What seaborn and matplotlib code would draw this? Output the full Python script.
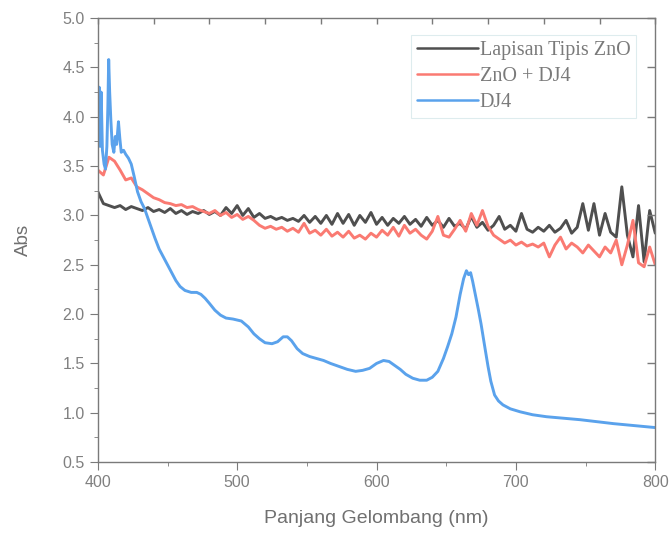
import numpy as np
import pandas as pd
import matplotlib
matplotlib.use("Agg")
import matplotlib.pyplot as plt
import seaborn as sns
from matplotlib.ticker import MultipleLocator, NullFormatter, FormatStrFormatter

# ---- data ----
wl_grid = np.arange(400, 801, 4)

zno = [
    3.24, 3.12, 3.10, 3.08, 3.10, 3.06, 3.09, 3.07, 3.05, 3.08,
    3.04, 3.06, 3.03, 3.07, 3.02, 3.05, 3.01, 3.04, 3.02, 3.05,
    3.01, 3.04, 3.00, 3.08, 3.02, 3.10, 3.00, 3.07, 2.98, 3.02,
    2.97, 2.99, 2.96, 2.98, 2.95, 2.97, 2.94, 3.00, 2.93, 2.99,
    2.92, 3.00, 2.91, 3.02, 2.92, 3.01, 2.90, 3.00, 2.93, 3.03,
    2.91, 2.98, 2.90, 2.97, 2.92, 2.99, 2.91, 2.96, 2.89, 2.98,
    2.90, 2.95, 2.88, 2.97, 2.89, 2.92, 2.86, 2.99, 2.88, 2.93,
    2.85, 2.90, 2.99, 2.86, 2.90, 2.84, 3.02, 2.86, 2.83, 2.88,
    2.84, 2.90, 2.83, 2.87, 2.95, 2.82, 2.88, 3.12, 2.85, 3.12,
    2.80, 3.02, 2.83, 2.78, 3.29, 2.80, 2.58, 3.10, 2.53, 3.05,
    2.82,
]

zno_dj4 = [
    3.46, 3.41, 3.59, 3.55, 3.46, 3.36, 3.38, 3.29, 3.26, 3.22,
    3.18, 3.16, 3.13, 3.12, 3.10, 3.11, 3.08, 3.09, 3.06, 3.04,
    3.02, 3.05, 3.00, 3.03, 2.98, 3.01, 2.96, 2.99, 2.95, 2.90,
    2.87, 2.89, 2.86, 2.88, 2.84, 2.87, 2.83, 2.92, 2.82, 2.85,
    2.80, 2.86, 2.79, 2.83, 2.78, 2.84, 2.77, 2.80, 2.76, 2.82,
    2.78, 2.85, 2.80, 2.88, 2.79, 2.90, 2.82, 2.86, 2.80, 2.76,
    2.84, 2.99, 2.80, 2.78, 2.86, 2.95, 2.84, 3.02, 2.90, 3.05,
    2.89, 2.80, 2.76, 2.72, 2.75, 2.70, 2.73, 2.69, 2.71, 2.68,
    2.72, 2.58, 2.70, 2.78, 2.66, 2.72, 2.68, 2.62, 2.70, 2.64,
    2.58, 2.68, 2.62, 2.75, 2.50, 2.70, 2.95, 2.52, 2.48, 2.68,
    2.50,
]

dj4_wl = [
    400, 401, 401.6, 402.4, 403.3, 404.5, 405.5, 406.5, 407.2, 407.8,
    408.5, 409.3, 410.3, 411.5, 412.5, 413.5, 414.8, 415.8, 416.8, 418.5,
    420, 422, 424, 426, 428.5, 431, 433.5, 436, 438, 441,
    444, 447, 450, 453, 456, 459, 462.5, 467, 471, 474,
    477, 480, 484, 488, 492, 497, 503, 508, 512, 516,
    520, 525, 529, 533, 536, 539, 543, 547, 552, 557,
    562, 567, 573, 579, 585, 590, 595, 600, 605, 609,
    613, 617, 621, 626, 631, 636, 640, 644, 648, 651,
    654, 657, 660, 662.5, 664.5, 666, 667.5, 669, 671, 673,
    675, 678, 680, 682, 684.7, 687.5, 690.7, 696, 703, 712,
    722, 734, 746, 758, 770, 785, 800,
]
dj4 = [
    3.85, 4.30, 3.70, 4.25, 3.66, 3.52, 3.47, 3.70, 4.10, 4.58,
    4.25, 3.98, 3.72, 3.64, 3.80, 3.72, 3.95, 3.78, 3.64, 3.66,
    3.62, 3.58, 3.52, 3.40, 3.24, 3.14, 3.07, 2.97, 2.89, 2.77,
    2.66, 2.58, 2.50, 2.42, 2.34, 2.28, 2.24, 2.22, 2.22, 2.20,
    2.16, 2.11, 2.04, 1.99, 1.96, 1.95, 1.93, 1.87, 1.80, 1.75,
    1.71, 1.70, 1.72, 1.77, 1.77, 1.73, 1.65, 1.60, 1.57, 1.55,
    1.53, 1.50, 1.47, 1.44, 1.42, 1.43, 1.45, 1.50, 1.53, 1.52,
    1.48, 1.44, 1.39, 1.35, 1.33, 1.33, 1.36, 1.42, 1.55, 1.67,
    1.80, 1.97, 2.20, 2.36, 2.44, 2.40, 2.42, 2.33, 2.19, 2.05,
    1.90, 1.64, 1.47, 1.32, 1.18, 1.12, 1.08, 1.04, 1.01, 0.98,
    0.96, 0.945, 0.93, 0.91, 0.89, 0.87, 0.85,
]

labels = ["Lapisan Tipis ZnO", "ZnO + DJ4", "DJ4"]
colors = ["#4f4f4f", "#fa7a72", "#5aa2ec"]

df = pd.concat([
    pd.DataFrame({"wl": wl_grid, "abs": zno, "series": labels[0]}),
    pd.DataFrame({"wl": wl_grid, "abs": zno_dj4, "series": labels[1]}),
    pd.DataFrame({"wl": dj4_wl, "abs": dj4, "series": labels[2]}),
], ignore_index=True)

# ---- plot ----
sns.set_style("ticks")
plt.rcParams["font.family"] = ["Liberation Sans", "DejaVu Sans"]

fig = plt.figure(figsize=(6.7, 5.33), dpi=100)
ax = fig.add_axes([0.146, 0.133, 0.832, 0.833])

sns.lineplot(data=df, x="wl", y="abs", hue="series", hue_order=labels,
             palette=colors, linewidth=2.1, ax=ax, sort=False,
             estimator=None, legend=True)

ax.set_xlim(400, 800)
ax.set_ylim(0.5, 5.0)
ax.xaxis.set_major_locator(MultipleLocator(100))
ax.xaxis.set_minor_locator(MultipleLocator(50))
ax.yaxis.set_major_locator(MultipleLocator(0.5))
ax.yaxis.set_minor_locator(MultipleLocator(0.25))
ax.yaxis.set_major_formatter(FormatStrFormatter("%.1f"))

grey = "#7a7a7a"
for s in ax.spines.values():
    s.set_visible(True)
    s.set_color(grey)
    s.set_linewidth(1.0)
ax.tick_params(which="both", colors=grey, labelcolor="#808080",
               labelsize=11.5, direction="out", top=False, right=False)
ax.tick_params(which="major", length=6)
ax.tick_params(which="minor", length=3)

# inward ticks on the top and right frame (twin axes, no labels)
tx = ax.twiny()
tx.set_xlim(ax.get_xlim())
tx.xaxis.set_major_locator(MultipleLocator(40))
tx.xaxis.set_major_formatter(NullFormatter())
tx.tick_params(axis="x", direction="in", length=4, width=1.0, colors=grey)
ty = ax.twinx()
ty.set_ylim(ax.get_ylim())
ty.yaxis.set_major_locator(MultipleLocator(0.5))
ty.yaxis.set_major_formatter(NullFormatter())
ty.tick_params(axis="y", direction="in", length=6, width=1.0, colors=grey)
for t in (tx, ty):
    for s in t.spines.values():
        s.set_visible(False)

ax.set_xlabel("Panjang Gelombang (nm)", fontsize=14, color="#707070", labelpad=14)
ax.set_ylabel("Abs", fontsize=13.5, color="#707070", labelpad=22)

leg = ax.legend(loc="upper right", bbox_to_anchor=(0.966, 0.962),
                prop={"family": "Liberation Serif", "size": 14.5},
                handlelength=3.0, handletextpad=0.1, labelspacing=0.35,
                borderpad=0.3, borderaxespad=0.0, frameon=True, fancybox=False)
leg.get_frame().set_edgecolor("#d6e8ea")
leg.get_frame().set_linewidth(0.8)
for t in leg.get_texts():
    t.set_color("#7a7a7a")
for ln in leg.get_lines():
    ln.set_linewidth(1.8)

fig.savefig("out.png", dpi=100)
